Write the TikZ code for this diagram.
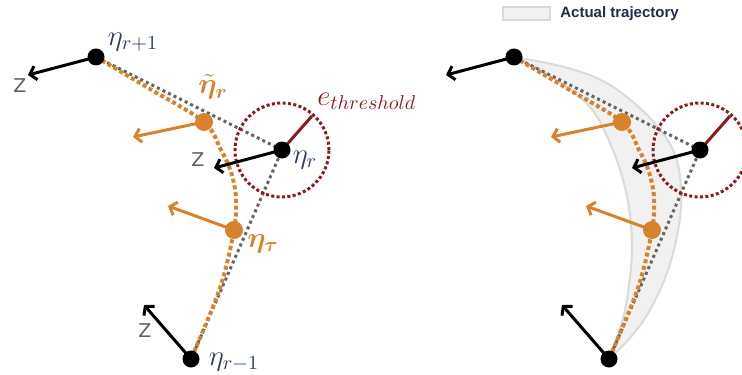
\documentclass[tikz,border=0pt]{standalone}
\usepackage{bm}
\usepackage{fontspec}
\newfontfamily\zfont{DejaVu Sans}
\newfontfamily\legfont{Liberation Sans}
\usetikzlibrary{arrows.meta}
\definecolor{oran}{RGB}{217,130,46}
\definecolor{dred}{RGB}{140,28,28}
\definecolor{navy}{RGB}{40,60,95}
\definecolor{dgray}{RGB}{100,100,100}
\definecolor{zgray}{RGB}{95,95,95}
\definecolor{bandfill}{RGB}{241,241,241}
\definecolor{bandedge}{RGB}{218,218,218}
\definecolor{legnavy}{RGB}{30,45,72}
\begin{document}
\begin{tikzpicture}[x=0.5pt,y=-0.5pt,
  bdot/.style={circle,fill=black,minimum size=8.5pt,inner sep=0pt},
  odot/.style={circle,fill=oran,minimum size=9pt,inner sep=0pt},
  zarrow/.style={black,line width=1.5pt,-{Straight Barb[length=3pt,width=7pt]}},
  oarrow/.style={oran,line width=1.5pt,-{Straight Barb[length=3pt,width=7pt]}},
  graydot/.style={dgray,line width=1.5pt,dash pattern=on 1.5pt off 1.6pt},
  orangedash/.style={oran,line width=2pt,dash pattern=on 2pt off 1.4pt},
  redcirc/.style={dred,line width=1.5pt,dash pattern=on 1.5pt off 1.2pt},
  redrad/.style={dred,line width=1.5pt},
  band/.style={fill=bandfill,draw=bandedge,line width=1pt},
  mathlab/.style={font=\fontsize{14.4}{17}\selectfont,inner sep=0pt},
  zlab/.style={font=\fontsize{9.5}{11}\zfont,text=zgray,inner sep=0pt},
  leglab/.style={font=\fontsize{7.5}{9}\legfont\bfseries,text=legnavy,inner sep=0pt,anchor=west}
]
\useasboundingbox (0,0) rectangle (742,374);
\clip (0,0) rectangle (742,374);

% band (right panel only)
\begin{scope}[shift={(418,0)}]
\draw[band] plot[smooth,tension=0.6] coordinates {(96,57) (150,68) (192,85) (232,118) (255,150) (263,185) (261,225) (250,270) (232,310) (212,338) (191,359)}
  -- plot[smooth,tension=0.6] coordinates {(191,359) (205,318) (211,285) (214,250) (212,215) (205,180) (192,143) (172,107) (135,78) (96,57)} -- cycle;
\end{scope}

\foreach \sx/\s in {0/L,418/R}{
\begin{scope}[shift={(\sx,0)}]
  \coordinate (p1\s) at (96,57);
  \coordinate (pr\s) at (282,150);
  \coordinate (p0\s) at (191,359);
  \coordinate (tt\s) at (204,122);
  \coordinate (tau\s) at (234,230);
  \coordinate (c1\s) at (150,89);
  \coordinate (c2\s) at (221,150);
  \coordinate (c3\s) at (231,172);
  \coordinate (c4\s) at (236,198);
  \coordinate (c5\s) at (220,288);
  \coordinate (rr\s) at (312,116);
  \coordinate (z1\s) at (28,75);
  \coordinate (z2\s) at (214,168);
  \coordinate (z3\s) at (144,305);
  \coordinate (o1\s) at (133,137);
  \coordinate (o2\s) at (168,206);
  % gray straight lines
  \draw[graydot] (p1\s) -- (pr\s) -- (p0\s);
  % orange curve
  \draw[orangedash] plot[smooth,tension=0.55] coordinates {(p1\s) (c1\s) (tt\s) (c2\s) (c3\s) (c4\s) (tau\s) (c5\s) (p0\s)};
  % red circle
  \draw[redcirc] (pr\s) circle[radius=23.5pt];
  \draw[redrad] (pr\s) -- (rr\s);
  % arrows
  \draw[zarrow] (p1\s) -- (z1\s);
  \draw[zarrow] (pr\s) -- (z2\s);
  \draw[zarrow] (p0\s) -- (z3\s);
  \draw[oarrow] (tt\s) -- (o1\s);
  \draw[oarrow] (tau\s) -- (o2\s);
  % dots
  \node[bdot] (n1\s) at (p1\s) {};
  \node[bdot] (nr\s) at (pr\s) {};
  \node[bdot] (n0\s) at (p0\s) {};
  \node[odot] (nt\s) at (tt\s) {};
  \node[odot] (ntau\s) at (tau\s) {};
\end{scope}
}

% labels (left panel)
\node[mathlab,text=navy] (lr1) at (133,42) {$\eta_{r+1}$};
\node[mathlab,text=oran] (ltil) at (213,87) {$\bm{\tilde{\eta}_r}$};
\node[mathlab,text=dred,anchor=base west] (leth) at (317,105) {$e_{threshold}$};
\node[mathlab,text=navy] (lr) at (305,160) {$\eta_r$};
\node[mathlab,text=oran] (ltau) at (263,244) {$\bm{\eta_\tau}$};
\node[mathlab,text=navy] (lr0) at (234,362) {$\eta_{r-1}$};
\node[zlab] (za) at (20,86) {Z};
\node[zlab] (zb) at (198,160) {Z};
\node[zlab] (zc) at (145,331) {Z};

% legend
\node[draw=bandedge,fill=bandfill,line width=1pt,minimum width=23.5pt,minimum height=6.5pt,inner sep=0pt] (legbox) at (526.5,13.5) {};
\node[leglab] (legtext) at (560,13.5) {Actual trajectory};
\end{tikzpicture}
\end{document}
